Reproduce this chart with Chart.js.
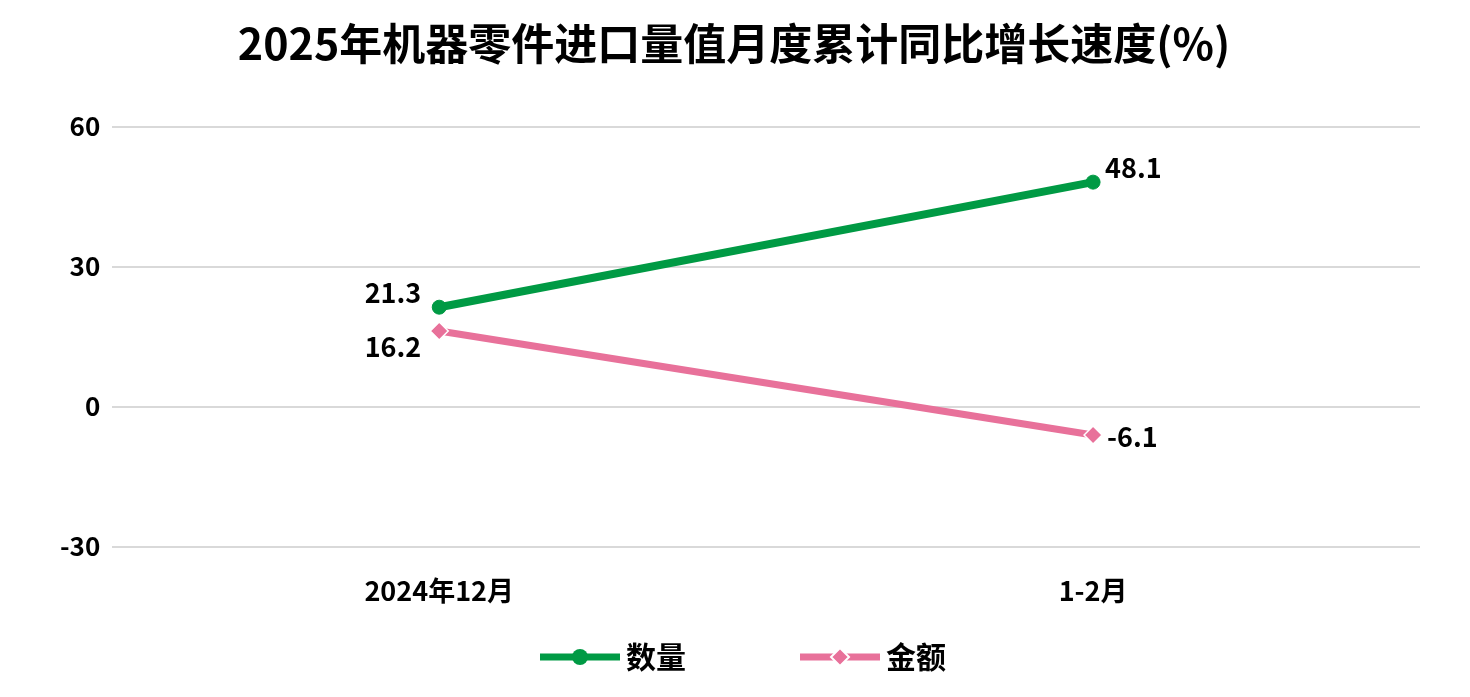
<!DOCTYPE html>
<html><head><meta charset="utf-8">
<script src="https://cdn.jsdelivr.net/npm/chart.js@4"></script>
<style>body{margin:0;background:#fff}</style>
</head><body>
<canvas id="c" width="1470" height="697"></canvas>
<script>
const categories = ['2024年12月', '1-2月'];
const quantity = [21.3, 48.1];
const amount = [16.2, -6.1];
const yTicks = [-30, 0, 30, 60];
const seriesNames = ['数量', '金额'];
const FONT = '"Noto Sans CJK SC", "Noto Sans", sans-serif';
const green = '#009a44', pink = '#e8719a';

const labelPlugin = {
  id: 'labels',
  afterDatasetsDraw(chart) {
    const ctx = chart.ctx;
    ctx.save();
    ctx.font = 'bold 27px ' + FONT;
    ctx.fillStyle = '#000';
    const offs = [[[-18, -14, 'right'], [12, -14, 'left']], [[-18, 16, 'right'], [14, 2, 'left']]];
    chart.data.datasets.forEach((ds, di) => {
      chart.getDatasetMeta(di).data.forEach((pt, i) => {
        const o = offs[di][i];
        ctx.textAlign = o[2]; ctx.textBaseline = 'middle';
        ctx.fillText(ds.data[i].toFixed(1), pt.x + o[0], pt.y + o[1]);
      });
    });
    const ly = 657;
    const items = [[540, green], [800, pink]];
    items.forEach((it, k) => {
      const x = it[0];
      ctx.strokeStyle = it[1]; ctx.lineWidth = 7;
      ctx.beginPath(); ctx.moveTo(x, ly); ctx.lineTo(x + 80, ly); ctx.stroke();
      ctx.fillStyle = it[1]; ctx.strokeStyle = '#fff'; ctx.lineWidth = 2;
      ctx.beginPath();
      if (k === 0) { ctx.arc(x + 40, ly, 8, 0, Math.PI * 2); ctx.fill(); }
      else { ctx.moveTo(x+40, ly-9); ctx.lineTo(x+49, ly); ctx.lineTo(x+40, ly+9); ctx.lineTo(x+31, ly); ctx.closePath(); ctx.fill(); ctx.stroke(); }
      ctx.fillStyle = '#000'; ctx.font = 'bold 30px ' + FONT;
      ctx.textAlign = 'left'; ctx.textBaseline = 'middle';
      ctx.fillText(seriesNames[k], x + 86, ly);
    });
    ctx.restore();
  }
};

new Chart(document.getElementById('c'), {
  type: 'line',
  data: {
    labels: categories,
    datasets: [
      {label: seriesNames[0], data: quantity, borderColor: green, backgroundColor: green, borderWidth: 8,
       pointStyle: 'circle', pointRadius: 7, pointBorderWidth: 1, pointBorderColor: green, pointBackgroundColor: green},
      {label: seriesNames[1], data: amount, borderColor: pink, backgroundColor: pink, borderWidth: 7,
       pointStyle: 'rectRot', pointRadius: 9, pointBorderColor: '#fff', pointBorderWidth: 1.5, pointBackgroundColor: pink}
    ]
  },
  options: {
    responsive: false, animation: false, devicePixelRatio: 1,
    layout: {padding: {left: 48, right: 50, top: 0, bottom: 70}},
    plugins: {
      legend: {display: false}, tooltip: {enabled: false},
      title: {display: true, text: '2025年机器零件进口量值月度累计同比增长速度(%)', color: '#000',
        font: {family: FONT, size: 43, weight: 'bold'}, padding: {top: 18, bottom: 57}}
    },
    scales: {
      x: {offset: true, grid: {display: false}, border: {display: false},
        ticks: {color: '#000', font: {family: FONT, size: 27, weight: 'bold'}, padding: 20}},
      y: {min: -30, max: 60, afterBuildTicks: a => { a.ticks = yTicks.map(v => ({value: v})); },
        grid: {color: '#d9d9d9', lineWidth: 2, drawTicks: false}, border: {display: false},
        ticks: {color: '#000', font: {family: FONT, size: 26, weight: 'bold'}, padding: 12}}
    }
  },
  plugins: [labelPlugin]
});
</script>
</body></html>
